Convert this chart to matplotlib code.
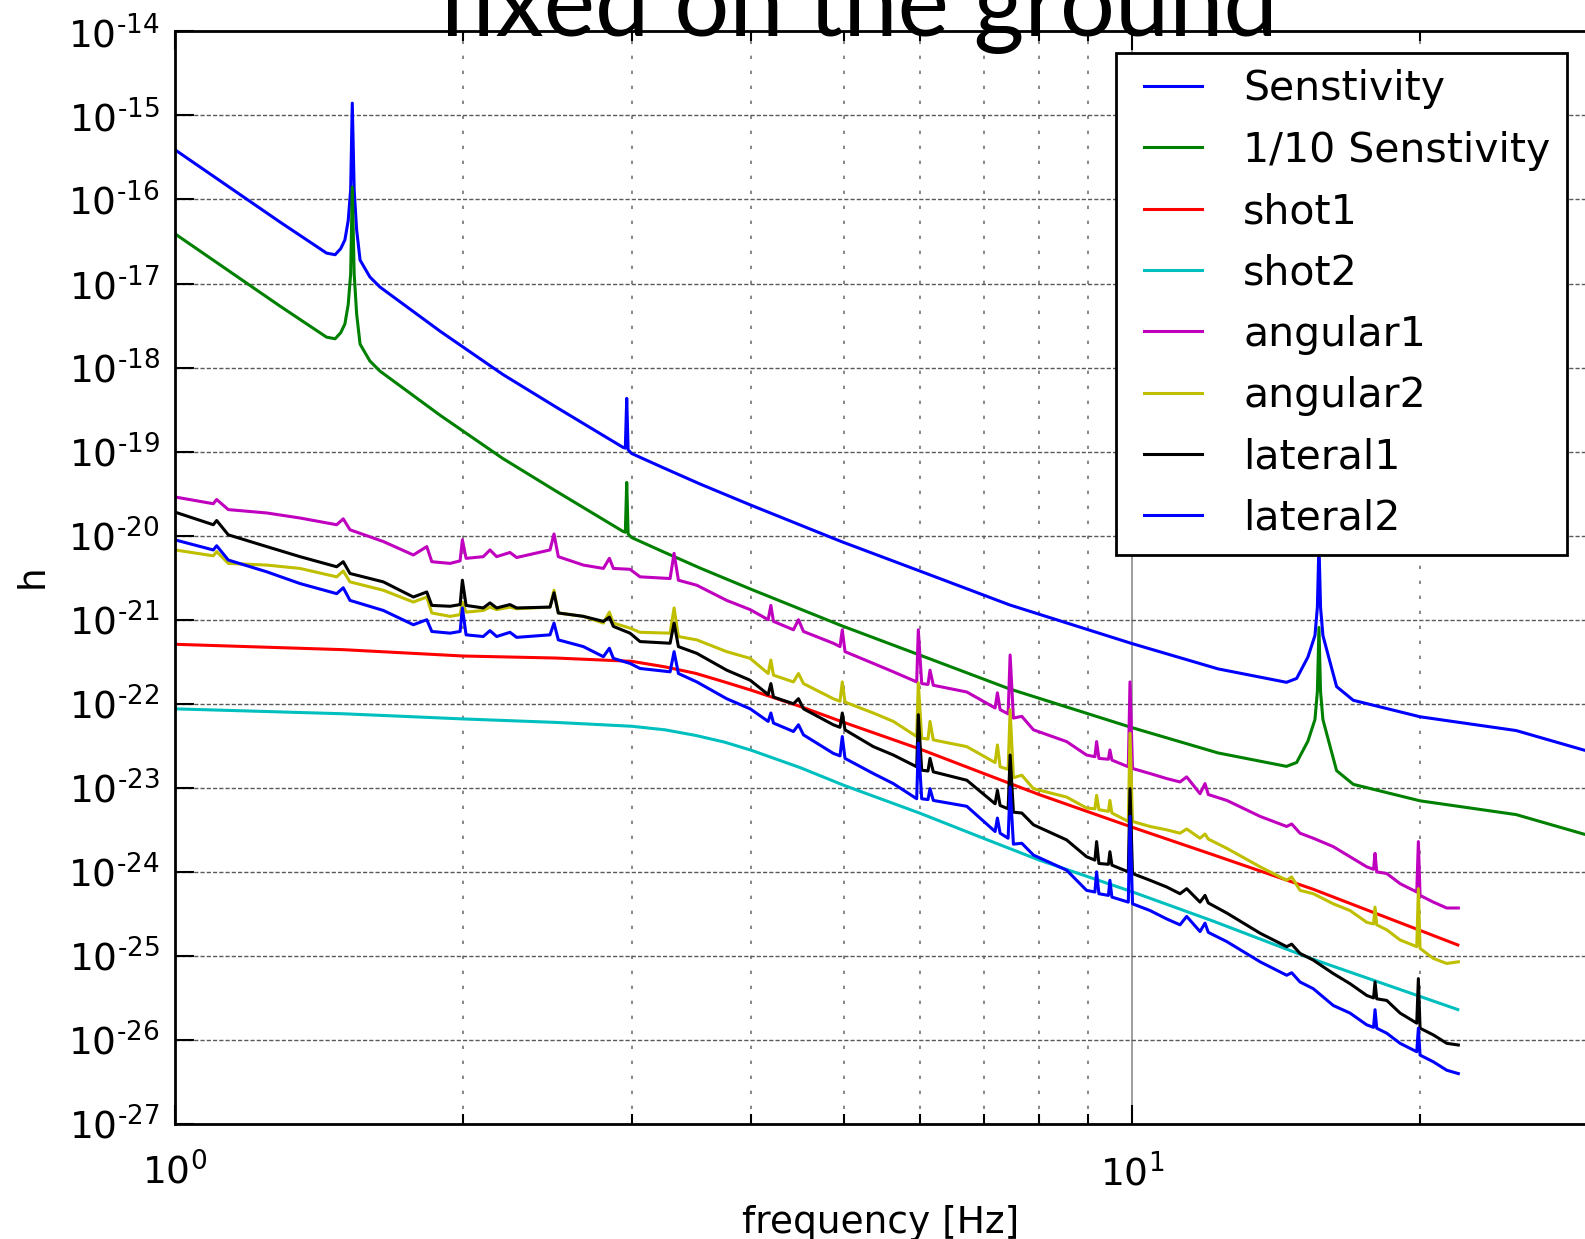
import numpy as np
import matplotlib
matplotlib.use("Agg")
import matplotlib.pyplot as plt
from matplotlib.lines import Line2D
from matplotlib.legend_handler import HandlerLine2D
from matplotlib.ticker import LogLocator, NullLocator, NullFormatter, FuncFormatter

# sensitivity curve (strain h vs frequency in Hz)
sens_freq = [1.000, 1.287, 1.417, 1.44, 1.470, 1.49, 1.505, 1.517, 1.526, 1.532,
             1.539, 1.548, 1.561, 1.598, 1.637, 1.893, 2.20, 2.50, 2.94, 2.955,
             2.965, 2.975, 3.00, 3.25, 3.54, 4.00, 4.97, 6.00, 7.45, 10.0,
             12.3, 14.5, 14.86, 15.27, 15.53, 15.62, 15.68, 15.74, 15.83, 16.05,
             16.36, 17.03, 20.0, 25.2, 29.7, 30.5]
sens_h = [3.9e-16, 5.4e-17, 2.6e-17, 2.3e-17, 2.2e-17, 2.6e-17, 3.3e-17, 5.6e-17, 1.3e-16, 1.4e-15,
          1.3e-16, 4.4e-17, 1.9e-17, 1.2e-17, 9.1e-18, 2.7e-18, 8.3e-19, 3.4e-19, 1.12e-19, 1.1e-19,
          4.3e-19, 1.05e-19, 9.5e-20, 6.3e-20, 4.1e-20, 2.3e-20, 8.5e-21, 3.8e-21, 1.5e-21, 5.2e-22,
          2.6e-22, 1.8e-22, 2.0e-22, 3.6e-22, 6.5e-22, 1.4e-21, 8.1e-21, 1.4e-21, 6.5e-22, 3.6e-22,
          1.6e-22, 1.1e-22, 7.0e-23, 4.8e-23, 2.8e-23, 2.6e-23]

# shot noise
shot_freq = [1, 1.5, 2, 2.5, 3, 3.25, 3.5, 3.75, 4, 4.5, 5, 6, 7, 8, 10, 12.15, 15.47, 21.9]
shot1_h = [5.1e-22, 4.4e-22, 3.7e-22, 3.5e-22, 3.2e-22, 2.75e-22, 2.3e-22, 1.82e-22, 1.45e-22,
           9.3e-23, 6.0e-23, 2.9e-23, 1.48e-23, 8.3e-24, 3.4e-24, 1.6e-24, 6.2e-25, 1.35e-25]
shot2_h = [8.7e-23, 7.6e-23, 6.6e-23, 6.0e-23, 5.4e-23, 4.9e-23, 4.2e-23, 3.5e-23, 2.8e-23,
           1.74e-23, 1.07e-23, 5.0e-24, 2.5e-24, 1.38e-24, 5.8e-25, 2.6e-25, 9.1e-26, 2.3e-26]

# measured noise spectra, common frequency bins, values as log10(h)
noise_freq = [1.000, 1.0965, 1.1055, 1.1368, 1.247, 1.351, 1.4755, 1.4991, 1.5235, 1.651,
              1.7745, 1.8327, 1.855, 1.9385, 1.9857, 1.9967, 2.0145, 2.0995, 2.1337, 2.1683,
              2.2388, 2.2752, 2.4653, 2.4891, 2.515, 2.6713, 2.8031, 2.8438, 2.8713, 2.9886,
              3.0613, 3.2911, 3.3229, 3.3575, 3.5094, 3.7711, 3.9905, 4.167, 4.1941, 4.2205,
              4.4285, 4.482, 4.5363, 4.8738, 4.953, 4.9805, 5.013, 5.3666, 5.6316, 5.9569,
              5.98, 6.029, 6.1212, 6.1507, 6.1997, 6.7203, 7.1937, 7.2337, 7.281, 7.4225,
              7.4583, 7.5177, 7.6713, 7.8886, 8.5444, 8.9648, 9.1459, 9.1833, 9.2344, 9.4478,
              9.482, 9.5277, 9.9113, 9.9518, 10.012, 10.443, 10.87, 11.224, 11.406, 11.778,
              11.92, 12.015, 12.563, 13.61, 14.508, 14.684, 14.981, 15.468, 16.23, 16.896,
              17.59, 17.88, 17.945, 18.018, 18.46, 19.059, 19.84, 19.917, 19.998, 20.648,
              21.324, 21.928]
angular1_log = [-19.54, -19.62, -19.57, -19.69, -19.73, -19.79, -19.87, -19.80, -19.93, -20.07,
                -20.23, -20.13, -20.31, -20.33, -20.30, -20.05, -20.27, -20.25, -20.17, -20.25,
                -20.20, -20.26, -20.17, -19.98, -20.25, -20.35, -20.39, -20.27, -20.39, -20.40,
                -20.49, -20.51, -20.21, -20.53, -20.59, -20.77, -20.88, -21.00, -20.83, -21.02,
                -21.12, -21.00, -21.14, -21.28, -21.32, -21.12, -21.38, -21.52, -21.62, -21.74,
                -21.12, -21.76, -21.77, -21.60, -21.78, -21.86, -22.05, -21.87, -22.07, -22.12,
                -21.42, -22.17, -22.15, -22.31, -22.45, -22.61, -22.63, -22.45, -22.65, -22.66,
                -22.55, -22.67, -22.75, -21.74, -22.77, -22.83, -22.89, -22.93, -22.87, -23.07,
                -22.95, -23.08, -23.15, -23.34, -23.46, -23.43, -23.54, -23.60, -23.70, -23.82,
                -23.94, -23.97, -23.78, -24.00, -24.02, -24.14, -24.24, -23.64, -24.28, -24.36,
                -24.43, -24.43]
angular2_log = [-20.17, -20.24, -20.19, -20.33, -20.35, -20.39, -20.49, -20.42, -20.55, -20.65,
                -20.79, -20.73, -20.92, -20.96, -20.94, -20.79, -20.91, -20.89, -20.85, -20.88,
                -20.85, -20.87, -20.85, -20.65, -20.92, -20.96, -21.04, -20.91, -21.04, -21.10,
                -21.15, -21.16, -20.86, -21.20, -21.24, -21.38, -21.46, -21.64, -21.48, -21.66,
                -21.74, -21.64, -21.76, -21.94, -21.97, -21.74, -21.98, -22.11, -22.21, -22.39,
                -21.75, -22.41, -22.42, -22.21, -22.43, -22.51, -22.70, -22.49, -22.75, -22.78,
                -22.07, -22.88, -22.85, -23.01, -23.11, -23.24, -23.25, -23.09, -23.26, -23.28,
                -23.15, -23.30, -23.40, -22.35, -23.40, -23.46, -23.50, -23.54, -23.49, -23.60,
                -23.55, -23.61, -23.72, -23.94, -24.10, -24.06, -24.22, -24.26, -24.38, -24.46,
                -24.60, -24.62, -24.42, -24.63, -24.69, -24.81, -24.89, -24.20, -24.91, -25.03,
                -25.09, -25.07]
lateral1_log = [-19.72, -19.87, -19.82, -19.99, -20.13, -20.25, -20.37, -20.31, -20.45, -20.55,
                -20.73, -20.67, -20.83, -20.84, -20.82, -20.53, -20.83, -20.86, -20.80, -20.86,
                -20.82, -20.86, -20.85, -20.68, -20.92, -20.96, -21.02, -20.97, -21.08, -21.16,
                -21.26, -21.28, -21.04, -21.32, -21.40, -21.60, -21.72, -21.89, -21.76, -21.92,
                -22.00, -21.94, -22.06, -22.25, -22.28, -22.11, -22.31, -22.51, -22.61, -22.75,
                -22.13, -22.79, -22.80, -22.65, -22.81, -22.91, -23.19, -23.03, -23.21, -23.25,
                -22.61, -23.29, -23.30, -23.44, -23.62, -23.82, -23.86, -23.64, -23.90, -23.91,
                -23.76, -23.92, -24.00, -23.01, -24.02, -24.10, -24.18, -24.26, -24.20, -24.36,
                -24.28, -24.37, -24.49, -24.73, -24.89, -24.86, -24.97, -25.05, -25.21, -25.33,
                -25.47, -25.50, -25.31, -25.51, -25.53, -25.68, -25.80, -25.27, -25.86, -25.94,
                -26.04, -26.06]
lateral2_log = [-20.05, -20.17, -20.12, -20.29, -20.43, -20.57, -20.69, -20.62, -20.77, -20.89,
                -21.06, -21.00, -21.14, -21.16, -21.14, -20.86, -21.18, -21.20, -21.13, -21.20,
                -21.15, -21.21, -21.18, -21.04, -21.24, -21.32, -21.44, -21.34, -21.46, -21.52,
                -21.58, -21.62, -21.38, -21.64, -21.74, -21.94, -22.06, -22.21, -22.11, -22.23,
                -22.33, -22.25, -22.37, -22.59, -22.62, -22.39, -22.65, -22.83, -22.95, -23.13,
                -22.47, -23.13, -23.14, -23.01, -23.15, -23.22, -23.52, -23.36, -23.54, -23.60,
                -22.99, -23.67, -23.66, -23.80, -23.98, -24.22, -24.24, -24.00, -24.26, -24.28,
                -24.10, -24.30, -24.36, -23.34, -24.38, -24.46, -24.56, -24.63, -24.53, -24.71,
                -24.61, -24.72, -24.83, -25.07, -25.23, -25.20, -25.31, -25.39, -25.59, -25.68,
                -25.82, -25.85, -25.64, -25.86, -25.92, -26.04, -26.14, -25.86, -26.18, -26.26,
                -26.36, -26.40]

plt.rcParams['axes.unicode_minus'] = False
plt.rcParams['mathtext.fontset'] = 'dejavusans'
plt.rcParams['font.family'] = 'DejaVu Sans'

fig = plt.figure(figsize=(15.85, 12.39), dpi=100)
# axes run on to 100 Hz; the right part lies past the figure edge
ax = fig.add_axes([0.1104, 0.0928, 1.2076, 0.8819])

lw = 2.2
sens = np.array(sens_h)
ax.loglog(sens_freq, sens, color='b', lw=lw, label='Senstivity')
ax.loglog(sens_freq, sens / 10, color='g', lw=lw, label='1/10 Senstivity')
ax.loglog(shot_freq, shot1_h, color='r', lw=lw, label='shot1')
ax.loglog(shot_freq, shot2_h, color='c', lw=lw, label='shot2')
ax.loglog(noise_freq, 10.0 ** np.array(angular1_log), color='m', lw=lw, label='angular1')
ax.loglog(noise_freq, 10.0 ** np.array(angular2_log), color='y', lw=lw, label='angular2')
ax.loglog(noise_freq, 10.0 ** np.array(lateral1_log), color='k', lw=lw, label='lateral1')
ax.loglog(noise_freq, 10.0 ** np.array(lateral2_log), color='b', lw=lw, label='lateral2')

ax.set_xlim(1, 100)
ax.set_ylim(1e-27, 1e-14)


def pow10(v, pos):
    # plain hyphen in the exponent
    return r'$10^{\text{%d}}$' % int(round(np.log10(v)))


ax.set_xticks([1, 10])
ax.xaxis.set_major_formatter(FuncFormatter(pow10))
ax.xaxis.set_minor_locator(LogLocator(base=10, subs=np.arange(2, 10), numticks=20))
ax.xaxis.set_minor_formatter(NullFormatter())
ax.yaxis.set_major_locator(LogLocator(base=10, numticks=30))
ax.yaxis.set_major_formatter(FuncFormatter(pow10))
ax.yaxis.set_minor_locator(NullLocator())

ax.yaxis.grid(True, which='major', color='0.35', ls=(0, (3, 1.5)), lw=1.0)
ax.xaxis.grid(True, which='minor', color='0.45', ls=(0, (2, 7)), lw=1.2)
ax.xaxis.grid(True, which='major', color='0.55', ls='-', lw=1.2)

ax.tick_params(which='both', direction='in', top=True, right=True, width=1.5,
               labelsize=27)
ax.tick_params(which='major', length=14)
ax.tick_params(which='minor', length=7)
ax.tick_params(axis='x', pad=21)
ax.tick_params(axis='y', pad=11)
for sp in ax.spines.values():
    sp.set_linewidth(2)

leg = ax.legend(loc='upper right', bbox_to_anchor=(0.9886, 0.9572),
                bbox_transform=fig.transFigure, fontsize=29.5, fancybox=False,
                edgecolor='k', framealpha=1, borderaxespad=0, borderpad=0.4,
                handlelength=1.70, handletextpad=1.0, labelspacing=0.52,
                handler_map={Line2D: HandlerLine2D(xpad=0.28)})
leg.get_frame().set_linewidth(2)

fig.text(0.5413, 1 - 36 / 1239, 'fixed on the ground', fontsize=70, family='Lato',
         ha='center', va='baseline')
fig.text(881 / 1585, 0.005, 'frequency [Hz]', fontsize=27, ha='center', va='baseline')
fig.text(33 / 1585, 1 - 576 / 1239, 'h', fontsize=27, rotation=90, ha='center', va='center')

fig.savefig('out.png', dpi=100)
